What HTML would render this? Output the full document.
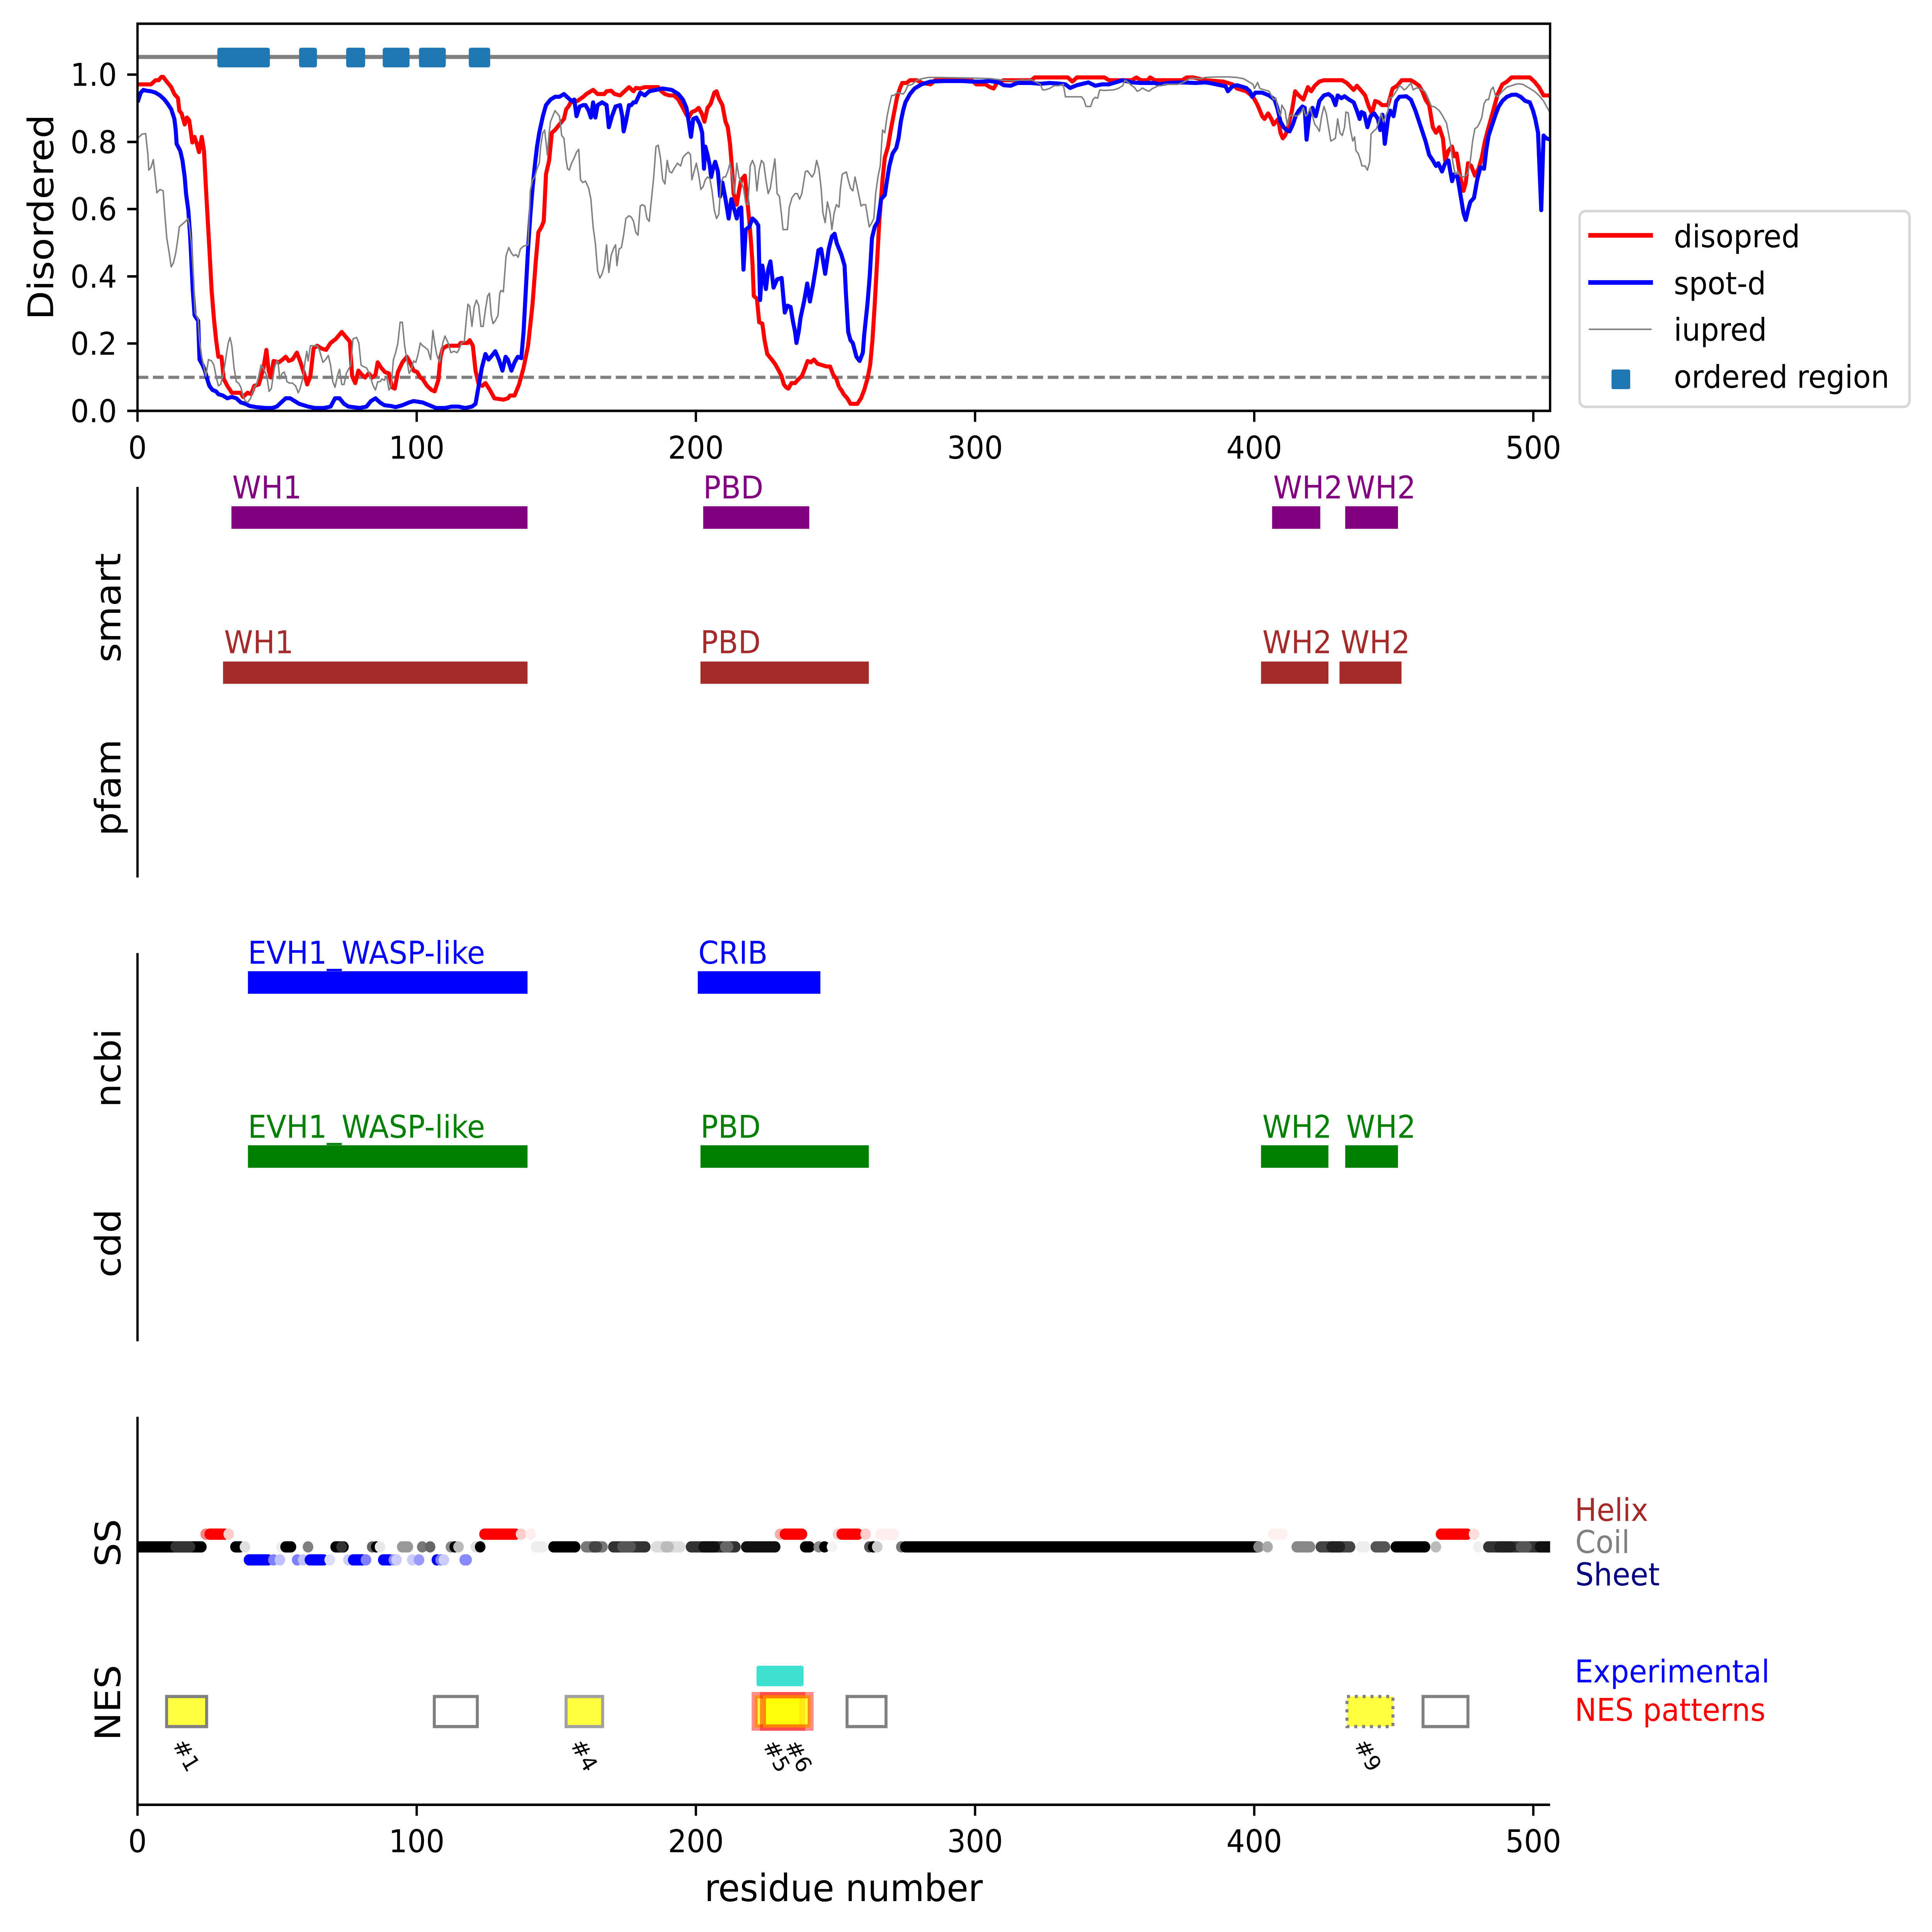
<!DOCTYPE html>
<html><head><meta charset="utf-8"><style>html,body{margin:0;padding:0;background:#fff;overflow:hidden;width:100vw;height:100vh}svg{display:block;width:100vw;height:100vh}</style></head>
<body>
<svg xmlns="http://www.w3.org/2000/svg" viewBox="0 0 7138 6682" preserveAspectRatio="none" font-family="'DejaVu Sans','Liberation Sans',sans-serif">
<rect width="7138" height="6682" fill="#fff"/>
<defs>
<clipPath id="c1"><rect x="508" y="82" width="5219" height="1339"/></clipPath>
<clipPath id="c3"><rect x="508" y="4800" width="5219" height="1442"/></clipPath>
</defs>

<!-- ===== TOP PANEL ===== -->
<g clip-path="url(#c1)">
<line x1="508" y1="197" x2="5727" y2="197" stroke="#808080" stroke-width="14"/>
<line x1="508" y1="1305" x2="5727" y2="1305" stroke="#808080" stroke-width="11" stroke-dasharray="40 17"/>
<g fill="#1f77b4">
<rect x="803" y="165" width="194" height="68" rx="8"/>
<rect x="1105" y="165" width="66" height="68" rx="8"/>
<rect x="1279" y="165" width="70" height="68" rx="8"/>
<rect x="1414" y="165" width="99" height="68" rx="8"/>
<rect x="1548" y="165" width="99" height="68" rx="8"/>
<rect x="1732" y="165" width="79" height="68" rx="8"/>
</g>
<g fill="none" stroke-linejoin="round">
<g transform="translate(500,0) scale(1.6582,0.95663)">
<polyline vector-effect="non-scaling-stroke" stroke="#ff0000" stroke-width="15" style="stroke-width:0.2101vw" points="5,305 35,305 45,290 52,290 58,278 62,278 70,295 80,315 87,340 95,355 98,400 103,410 110,450 115,425 120,435 127,515 132,495 137,520 142,550 148,495 153,545 158,700 165,900 170,1050 175,1150 180,1230 185,1290 192,1290 197,1370 205,1395 215,1420 235,1420 240,1435 250,1420 258,1425 265,1395 275,1390 285,1335 292,1265 297,1340 302,1365 308,1305 320,1310 328,1300 335,1290 342,1305 350,1300 360,1275 368,1310 375,1345 383,1390 390,1360 397,1260 405,1250 415,1260 425,1265 435,1240 447,1225 460,1200 470,1220 478,1235 483,1360 490,1385 497,1340 505,1355 512,1365 520,1350 528,1365 535,1355 540,1310 548,1330 556,1345 565,1350 572,1400 578,1405 585,1345 595,1310 605,1290 612,1310 620,1340 628,1345 635,1365 640,1370 650,1395 660,1410 667,1415 675,1375 680,1290 685,1260 695,1250 720,1250 725,1240 740,1240 745,1230 752,1250 758,1340 765,1390 773,1395 780,1385 790,1410 800,1440 820,1445 830,1440 835,1430 845,1430 855,1390 865,1330 875,1250 885,1100 892,950 898,840 905,820 910,800 915,630 922,580 928,480 935,470 940,460 945,450 950,440 955,430 960,395 965,385 970,370 985,365 998,350 1005,340 1015,330 1020,325 1030,340 1045,340 1050,330 1060,328 1068,340 1080,345 1090,330 1100,315 1110,330 1115,318 1125,320 1135,315 1165,315 1172,330 1180,340 1190,345 1200,345 1210,360 1220,390 1228,415 1233,425 1240,405 1248,400 1255,390 1262,410 1268,440 1275,390 1282,375 1290,335 1295,330 1300,355 1308,380 1315,440 1320,460 1325,520 1330,620 1333,700 1340,740 1345,690 1350,650 1358,635 1362,700 1368,800 1372,880 1375,950 1378,1070 1385,1080 1390,1165 1397,1170 1402,1230 1408,1280 1418,1300 1425,1315 1432,1335 1440,1360 1445,1390 1450,1400 1455,1405 1462,1385 1470,1385 1478,1370 1485,1360 1490,1340 1498,1305 1505,1310 1512,1300 1520,1315 1530,1320 1540,1325 1548,1325 1555,1355 1562,1370 1568,1400"/>
<polyline vector-effect="non-scaling-stroke" stroke="#0000ff" stroke-width="15" style="stroke-width:0.2101vw" points="5,370 12,335 18,325 25,328 35,330 45,335 55,345 65,360 72,375 80,395 87,430 90,470 92,520 100,545 105,580 110,640 113,700 118,760 122,850 125,950 128,1050 132,1140 140,1160 143,1300 150,1320 155,1340 160,1370 165,1395 172,1410 180,1415 185,1425 195,1430 205,1440 215,1435 225,1440 235,1455 245,1460 255,1468 270,1472 290,1475 305,1475 315,1470 325,1455 335,1440 345,1440 355,1450 365,1460 385,1470 400,1475 420,1475 435,1470 445,1440 455,1440 465,1460 475,1470 500,1475 515,1470 525,1450 535,1440 545,1455 555,1465 570,1468 580,1472 595,1465 610,1455 620,1450 640,1455 655,1465 670,1475 690,1475 705,1470 720,1470 735,1475 750,1470 758,1460 765,1395 772,1330 780,1280 787,1300 795,1285 802,1270 810,1300 818,1340 825,1290 830,1300 838,1340 845,1310 852,1290 860,1295 865,1200 870,1050 875,900 880,780 885,680 890,600 895,530 900,480 908,420 915,380 925,360 935,350 945,350 955,340 965,355 972,365 978,360 983,420 990,385 998,380 1003,380 1010,400 1015,425 1020,370 1025,425 1030,380 1040,370 1050,380 1055,460 1062,420 1070,385 1080,380 1085,420 1088,475 1093,440 1100,380 1105,380 1110,370 1115,370 1125,335 1135,345 1145,330 1160,325 1175,320 1195,325 1210,340 1220,360 1228,390 1233,440 1238,495 1243,430 1250,425 1258,450 1263,480 1267,610 1270,530 1275,560 1280,600 1283,640 1287,610 1292,585 1298,620 1303,710 1308,660 1315,720 1322,790 1328,720 1335,760 1340,790 1345,755 1350,750 1355,975 1360,830 1368,820 1375,790 1382,800 1388,815 1392,1085 1397,960 1405,1045 1410,975 1415,945 1422,1040 1430,1010 1440,1005 1447,1130 1453,1105 1460,1110 1465,1160 1470,1200 1473,1240 1478,1200 1482,1150 1490,1090 1497,1025 1503,1090 1510,1030 1517,960 1522,905 1528,900 1532,940 1537,990 1545,900 1552,855 1558,845 1563,880 1568,900"/>
<polyline vector-effect="non-scaling-stroke" stroke="#808080" stroke-width="5.4" style="stroke-width:0.0757vw" points="5,500 15,485 23,483 28,560 30,615 35,605 40,577 45,650 48,697 55,685 62,690 65,760 70,860 75,910 80,965 85,950 90,915 95,860 98,820 105,810 112,800 117,790 120,810 125,880 130,1010 133,1130 140,1155 143,1230 148,1290 152,1320 157,1360 163,1300 170,1305 175,1320 180,1360 185,1395 190,1390 197,1345 203,1280 207,1240 211,1220 215,1250 220,1330 225,1380 230,1385 235,1400 240,1430 245,1450 250,1455 257,1440 260,1425 265,1400 270,1390 275,1360 280,1320 285,1330 293,1360 298,1415 303,1405 310,1330 315,1305 318,1310 322,1370 327,1350 332,1345 338,1380 343,1385 350,1385 357,1395 363,1420 367,1405 372,1375 375,1350 378,1310 382,1270 385,1305 390,1250 405,1250 410,1265 418,1310 424,1300 430,1285 435,1320 440,1380 445,1400 450,1360 455,1335 460,1390 465,1390 470,1350 475,1335 480,1320 485,1225 493,1220 498,1240 503,1320 508,1325 515,1330 520,1345 525,1370 530,1395 535,1410 540,1380 545,1380 550,1370 555,1375 560,1360 565,1410 570,1395 575,1300 580,1275 585,1240 590,1165 595,1165 600,1250 605,1300 610,1350 615,1335 620,1305 625,1310 630,1280 635,1240 640,1250 645,1255 652,1265 658,1300 663,1195 668,1250 672,1285 678,1310 685,1240 690,1215 697,1240 703,1275 710,1270 717,1275 722,1260 727,1240 733,1235 738,1145 741,1100 745,1108 750,1180 755,1110 760,1085 765,1105 770,1180 775,1180 780,1120 785,1070 789,1060 793,1140 797,1170 802,1160 808,1140 812,1060 815,1050 820,1055 826,925 832,895 838,915 843,925 848,920 853,930 858,900 865,890 875,885 880,690 885,650 890,640 895,610 900,590 903,530 908,480 912,470 918,560 922,480 925,440 930,420 935,400 940,410 945,420 950,490 955,500 960,580 963,610 967,615 972,590 978,570 983,550 988,540 992,650 997,660 1003,655 1010,680 1015,720 1020,820 1025,880 1030,980 1035,1005 1040,990 1045,960 1050,885 1055,985 1060,925 1065,900 1070,885 1073,960 1078,900 1083,895 1088,850 1093,790 1100,780 1105,785 1110,800 1115,840 1120,850 1125,745 1130,740 1135,745 1140,790 1145,800 1150,720 1155,640 1160,530 1165,525 1170,570 1175,650 1180,665 1185,580 1190,620 1195,625 1200,610 1208,590 1215,600 1220,570 1225,560 1232,550 1237,560 1240,650 1245,620 1250,590 1255,630 1260,685 1265,675 1270,650 1275,640 1280,645 1285,690 1290,760 1295,790 1300,775 1305,660 1310,640 1315,640 1320,620 1325,590 1330,640 1335,700 1340,590 1345,640 1350,660 1355,680 1360,735 1365,740 1370,600 1375,580 1380,600 1385,690 1390,615 1395,580 1400,590 1405,650 1410,700 1415,680 1420,625 1425,575 1430,700 1435,710 1440,780 1443,830 1453,830 1457,750 1463,715 1470,700 1475,700 1480,720 1485,700 1490,650 1493,620 1498,618 1503,630 1508,640 1513,625 1518,580 1523,610 1528,680 1532,770 1537,805 1542,730 1548,770 1552,830 1557,770 1562,740 1565,745 1568,750"/>
</g>
<g transform="translate(3100,0) scale(1.6901,0.95663)">
<polyline vector-effect="non-scaling-stroke" stroke="#ff0000" stroke-width="15" style="stroke-width:0.2101vw" points="0,1400 5,1410 10,1425 18,1440 25,1460 40,1460 48,1440 55,1410 62,1370 68,1320 73,1230 78,1100 83,950 88,800 95,650 100,570 107,530 113,470 120,410 127,350 133,320 138,300 148,300 155,290 170,290 182,300 200,305 210,290 240,290 290,290 300,305 320,305 330,315 338,320 345,300 360,290 420,290 428,280 500,280 510,295 520,280 580,280 590,290 640,290 650,280 660,290 675,290 680,280 690,290 750,290 760,280 775,280 800,290 840,295 860,305 870,320 890,330 905,350 915,380 925,420 930,430 938,410 945,430 950,450 960,430 965,480 970,500 975,490 980,470 990,400 997,330 1005,345 1015,360 1025,315 1032,330 1040,310 1050,295 1060,290 1100,290 1110,300 1125,325 1132,310 1140,325 1150,345 1158,385 1165,410 1172,365 1180,370 1187,380 1200,380 1210,320 1220,310 1230,290 1250,290 1260,300 1268,310 1275,330 1282,360 1290,380 1298,460 1305,480 1312,460 1320,500 1325,580 1332,545 1340,530 1345,565 1350,555 1358,640 1365,690 1370,660 1375,590 1382,600 1390,635 1398,610 1405,570 1412,510 1420,460 1430,400 1440,340 1450,305 1460,295 1470,280 1510,280 1520,295 1530,315 1540,345 1555,345"/>
<polyline vector-effect="non-scaling-stroke" stroke="#0000ff" stroke-width="15" style="stroke-width:0.2101vw" points="0,900 5,920 12,960 15,1060 20,1200 25,1230 30,1240 38,1290 45,1305 52,1275 55,1210 62,1100 67,1000 72,860 78,820 85,800 92,720 100,705 105,650 110,600 117,555 125,535 130,500 135,440 140,400 145,370 155,340 165,320 180,305 200,295 230,293 270,293 290,295 310,295 330,293 350,298 360,308 375,310 390,300 420,300 440,303 460,300 480,302 495,305 505,318 520,308 545,298 560,310 575,305 590,305 600,300 610,295 620,290 640,298 660,300 690,300 700,305 720,300 750,298 780,300 800,298 810,300 830,307 845,312 850,330 860,312 870,308 890,318 898,330 903,350 910,335 925,335 940,345 952,360 958,390 965,440 972,460 978,470 985,475 992,450 998,420 1005,400 1013,385 1018,390 1022,505 1028,420 1035,390 1042,420 1050,365 1060,345 1070,340 1078,350 1085,380 1090,345 1098,355 1105,348 1115,360 1125,370 1132,400 1138,430 1142,405 1148,410 1155,460 1162,420 1170,410 1178,430 1183,470 1188,415 1193,520 1200,430 1205,400 1212,420 1218,365 1225,350 1240,348 1250,360 1260,400 1268,440 1275,475 1282,510 1290,560 1298,580 1305,600 1310,590 1318,620 1325,590 1332,580 1340,655 1345,630 1352,640 1360,720 1365,770 1370,795 1375,760 1380,730 1388,715 1395,650 1402,605 1410,610 1415,540 1420,490 1428,450 1435,415 1442,385 1450,365 1460,350 1470,343 1480,342 1490,350 1500,365 1510,370 1517,400 1522,430 1528,480 1535,760 1540,490 1546,500 1555,505"/>
<polyline vector-effect="non-scaling-stroke" stroke="#808080" stroke-width="5.4" style="stroke-width:0.0757vw" points="0,750 3,680 7,630 12,625 16,622 20,650 25,680 30,690 35,640 40,680 45,720 48,745 52,740 58,740 62,780 66,820 70,810 76,790 80,700 85,640 90,600 95,470 100,480 105,420 110,380 115,345 120,345 127,335 135,338 140,340 145,330 150,310 160,305 170,290 180,285 195,280 220,280 290,282 330,284 360,290 380,292 400,289 410,290 420,288 430,296 440,305 445,325 450,325 460,320 470,310 480,310 490,305 495,350 500,350 530,350 535,360 540,385 550,385 555,360 560,352 565,355 570,325 580,327 600,325 610,320 620,310 625,290 630,295 640,310 645,315 652,330 658,325 663,318 670,325 677,330 685,320 692,315 698,310 705,310 712,305 740,305 750,300 760,290 770,282 790,285 800,280 830,278 850,278 870,280 885,285 895,295 905,305 908,320 915,298 920,320 930,325 940,330 945,345 950,360 955,355 960,400 965,420 968,380 975,400 980,455 985,420 990,415 1000,420 1005,415 1010,405 1015,390 1020,420 1025,410 1030,390 1035,420 1040,450 1045,460 1050,475 1055,420 1060,385 1065,410 1070,460 1075,510 1080,505 1085,500 1090,430 1095,480 1100,490 1105,460 1108,405 1113,408 1118,470 1123,510 1127,495 1130,545 1135,555 1140,580 1143,600 1150,600 1155,615 1160,585 1163,485 1168,475 1175,465 1180,440 1185,410 1190,440 1195,420 1200,400 1203,355 1210,350 1218,330 1225,310 1230,315 1235,325 1240,320 1245,310 1250,300 1255,325 1262,318 1270,320 1280,330 1285,345 1290,365 1295,385 1300,385 1305,390 1312,400 1318,415 1323,430 1328,445 1332,480 1337,525 1342,590 1347,630 1353,620 1358,635 1365,640 1370,635 1375,625 1380,580 1385,510 1390,465 1395,460 1400,445 1405,425 1410,375 1415,360 1420,360 1425,325 1430,315 1435,345 1440,350 1450,330 1460,315 1470,310 1478,305 1485,303 1495,305 1500,310 1510,320 1520,330 1530,345 1540,365 1555,410"/>
</g>
</g>
</g>
<rect x="508" y="82" width="5219" height="1339" fill="none" stroke="#000" stroke-width="8.6"/>
<g stroke="#000" stroke-width="8.6">
<line x1="470" y1="1421" x2="508" y2="1421"/><line x1="470" y1="1188" x2="508" y2="1188"/><line x1="470" y1="956" x2="508" y2="956"/><line x1="470" y1="723" x2="508" y2="723"/><line x1="470" y1="491" x2="508" y2="491"/><line x1="470" y1="258" x2="508" y2="258"/>
<line x1="508" y1="1421" x2="508" y2="1459"/><line x1="1539.5" y1="1421" x2="1539.5" y2="1459"/><line x1="2571" y1="1421" x2="2571" y2="1459"/><line x1="3602.5" y1="1421" x2="3602.5" y2="1459"/><line x1="4634" y1="1421" x2="4634" y2="1459"/><line x1="5665" y1="1421" x2="5665" y2="1459"/>
</g>
<g font-size="108" fill="#000" text-anchor="end">
<text x="432" y="1460">0.0</text><text x="432" y="1227">0.2</text><text x="432" y="995">0.4</text><text x="432" y="762">0.6</text><text x="432" y="530">0.8</text><text x="432" y="297">1.0</text>
</g>
<g font-size="108" fill="#000" text-anchor="middle">
<text x="508" y="1586">0</text><text x="1539.5" y="1586">100</text><text x="2571" y="1586">200</text><text x="3602.5" y="1586">300</text><text x="4634" y="1586">400</text><text x="5665" y="1586">500</text>
</g>
<text transform="translate(196,751) rotate(-90)" text-anchor="middle" font-size="130">Disordered</text>

<!-- legend -->
<rect x="5836" y="730" width="1219" height="677" rx="22" fill="#fff" stroke="#d6d6d6" stroke-width="9"/>
<line x1="5868" y1="814" x2="6107" y2="814" stroke="#ff0000" stroke-width="16"/>
<line x1="5868" y1="977" x2="6107" y2="977" stroke="#0000ff" stroke-width="16"/>
<line x1="5870" y1="1139" x2="6102" y2="1139" stroke="#808080" stroke-width="5.4"/>
<rect x="5954" y="1278" width="69" height="68" rx="6" fill="#1f77b4"/>
<g font-size="108" fill="#000">
<text x="6184" y="855">disopred</text><text x="6184" y="1018">spot-d</text><text x="6184" y="1178">iupred</text><text x="6184" y="1341">ordered region</text>
</g>

<!-- ===== SMART / PFAM ===== -->
<line x1="508" y1="1684" x2="508" y2="3035" stroke="#000" stroke-width="8.6"/>
<text transform="translate(445,2102) rotate(-90)" text-anchor="middle" font-size="130">smart</text>
<text transform="translate(445,2724) rotate(-90)" text-anchor="middle" font-size="130">pfam</text>
<g fill="#800080">
<rect x="855" y="1751" width="1094" height="78"/><rect x="2598" y="1751" width="392" height="78"/><rect x="4700" y="1751" width="178" height="78"/><rect x="4970" y="1751" width="195" height="78"/>
</g>
<g fill="#800080" font-size="108">
<text x="858" y="1724">WH1</text><text x="2598" y="1724">PBD</text><text x="4704" y="1724">WH2</text><text x="4974" y="1724">WH2</text>
</g>
<g fill="#a52a2a">
<rect x="824" y="2288" width="1125" height="77"/><rect x="2588" y="2288" width="622" height="77"/><rect x="4659" y="2288" width="249" height="77"/><rect x="4949" y="2288" width="229" height="77"/>
</g>
<g fill="#a52a2a" font-size="108">
<text x="828" y="2259">WH1</text><text x="2588" y="2259">PBD</text><text x="4664" y="2259">WH2</text><text x="4953" y="2259">WH2</text>
</g>

<!-- ===== NCBI / CDD ===== -->
<line x1="508" y1="3296" x2="508" y2="4639" stroke="#000" stroke-width="8.6"/>
<text transform="translate(445,3694) rotate(-90)" text-anchor="middle" font-size="130">ncbi</text>
<text transform="translate(445,4300) rotate(-90)" text-anchor="middle" font-size="130">cdd</text>
<g fill="#0000ff">
<rect x="916" y="3359" width="1033" height="78"/><rect x="2578" y="3359" width="453" height="78"/>
</g>
<g fill="#0000ff" font-size="108">
<text x="916" y="3333">EVH1_WASP-like</text><text x="2580" y="3333">CRIB</text>
</g>
<g fill="#008000">
<rect x="916" y="3961" width="1033" height="78"/><rect x="2588" y="3961" width="622" height="78"/><rect x="4659" y="3961" width="249" height="78"/><rect x="4970" y="3961" width="195" height="78"/>
</g>
<g fill="#008000" font-size="108">
<text x="916" y="3935">EVH1_WASP-like</text><text x="2588" y="3935">PBD</text><text x="4664" y="3935">WH2</text><text x="4974" y="3935">WH2</text>
</g>

<!-- ===== SS / NES ===== -->
<g clip-path="url(#c3)" stroke-width="39" stroke-linecap="round" fill="none">
<g>
<line x1="500" y1="5350" x2="744" y2="5350" stroke="#000"/>
<line x1="649" y1="5350" x2="702" y2="5350" stroke="#333"/>
<line x1="870" y1="5350" x2="887" y2="5350" stroke="#000"/>
<line x1="905" y1="5350" x2="905.1" y2="5350" stroke="#e0e0e0"/>
<line x1="1040" y1="5350" x2="1040.1" y2="5350" stroke="#eee"/>
<line x1="1055" y1="5350" x2="1075" y2="5350" stroke="#000"/>
<line x1="1138" y1="5350" x2="1138.1" y2="5350" stroke="#808080"/>
<line x1="1240" y1="5350" x2="1269" y2="5350" stroke="#000"/>
<line x1="1262" y1="5350" x2="1262.1" y2="5350" stroke="#333"/>
<line x1="1375" y1="5350" x2="1375.1" y2="5350" stroke="#666"/>
<line x1="1390" y1="5350" x2="1390.1" y2="5350" stroke="#000"/>
<line x1="1404" y1="5350" x2="1404.1" y2="5350" stroke="#e8e8e8"/>
<line x1="1486" y1="5350" x2="1507" y2="5350" stroke="#999"/>
<line x1="1560" y1="5350" x2="1560.1" y2="5350" stroke="#777"/>
<line x1="1589" y1="5350" x2="1589.1" y2="5350" stroke="#666"/>
<line x1="1666" y1="5350" x2="1666.1" y2="5350" stroke="#888"/>
<line x1="1680" y1="5350" x2="1680.1" y2="5350" stroke="#000"/>
<line x1="1694" y1="5350" x2="1694.1" y2="5350" stroke="#bbb"/>
<line x1="1758" y1="5350" x2="1758.1" y2="5350" stroke="#ddd"/>
<line x1="1774" y1="5350" x2="1774.1" y2="5350" stroke="#000"/>
<line x1="1980" y1="5350" x2="2005" y2="5350" stroke="#eee"/>
<line x1="2045" y1="5350" x2="2125" y2="5350" stroke="#000"/>
<line x1="2165" y1="5350" x2="2226" y2="5350" stroke="#777"/>
<line x1="2195" y1="5350" x2="2205" y2="5350" stroke="#444"/>
<line x1="2266" y1="5350" x2="2384" y2="5350" stroke="#333"/>
<line x1="2300" y1="5350" x2="2330" y2="5350" stroke="#555"/>
<line x1="2424" y1="5350" x2="2513" y2="5350" stroke="#ddd"/>
<line x1="2460" y1="5350" x2="2470" y2="5350" stroke="#bbb"/>
<line x1="2553" y1="5350" x2="2717" y2="5350" stroke="#333"/>
<line x1="2600" y1="5350" x2="2640" y2="5350" stroke="#111"/>
<line x1="2680" y1="5350" x2="2690" y2="5350" stroke="#666"/>
<line x1="2757" y1="5350" x2="2864" y2="5350" stroke="#111"/>
<line x1="2975" y1="5350" x2="2991" y2="5350" stroke="#000"/>
<line x1="3025" y1="5350" x2="3025.1" y2="5350" stroke="#888"/>
<line x1="3046" y1="5350" x2="3046.1" y2="5350" stroke="#000"/>
<line x1="3074" y1="5350" x2="3074.1" y2="5350" stroke="#f4f4f4"/>
<line x1="3212" y1="5350" x2="3212.1" y2="5350" stroke="#555"/>
<line x1="3226" y1="5350" x2="3226.1" y2="5350" stroke="#000"/>
<line x1="3241" y1="5350" x2="3241.1" y2="5350" stroke="#ccc"/>
<line x1="3330" y1="5350" x2="3330.1" y2="5350" stroke="#777"/>
<line x1="3345" y1="5350" x2="4650" y2="5350" stroke="#000"/>
<line x1="4650" y1="5350" x2="4650.1" y2="5350" stroke="#888"/>
<line x1="4683" y1="5350" x2="4683.1" y2="5350" stroke="#aaa"/>
<line x1="4791" y1="5350" x2="4840" y2="5350" stroke="#888"/>
<line x1="4880" y1="5350" x2="4988" y2="5350" stroke="#444"/>
<line x1="4920" y1="5350" x2="4950" y2="5350" stroke="#222"/>
<line x1="5028" y1="5350" x2="5043" y2="5350" stroke="#eee"/>
<line x1="5083" y1="5350" x2="5117" y2="5350" stroke="#555"/>
<line x1="5157" y1="5350" x2="5265" y2="5350" stroke="#000"/>
<line x1="5305" y1="5350" x2="5305.1" y2="5350" stroke="#bbb"/>
<line x1="5462" y1="5350" x2="5462.1" y2="5350" stroke="#f0f0f0"/>
<line x1="5499" y1="5350" x2="5740" y2="5350" stroke="#333"/>
<line x1="5540" y1="5350" x2="5580" y2="5350" stroke="#222"/>
<line x1="5620" y1="5350" x2="5640" y2="5350" stroke="#555"/>
<line x1="5690" y1="5350" x2="5740" y2="5350" stroke="#111"/>
</g>
<g>
<line x1="760" y1="5306" x2="760.1" y2="5306" stroke="#ff8080"/>
<line x1="775" y1="5306" x2="830" y2="5306" stroke="#f00"/>
<line x1="845" y1="5306" x2="845.1" y2="5306" stroke="#ffcccc"/>
<line x1="1790" y1="5306" x2="1905" y2="5306" stroke="#f00"/>
<line x1="1925" y1="5306" x2="1925.1" y2="5306" stroke="#ffcccc"/>
<line x1="1960" y1="5306" x2="1960.1" y2="5306" stroke="#ffeeee"/>
<line x1="2882" y1="5306" x2="2882.1" y2="5306" stroke="#ffaaaa"/>
<line x1="2900" y1="5306" x2="2963" y2="5306" stroke="#f00"/>
<line x1="3096" y1="5306" x2="3096.1" y2="5306" stroke="#ffcccc"/>
<line x1="3110" y1="5306" x2="3170" y2="5306" stroke="#f00"/>
<line x1="3198" y1="5306" x2="3198.1" y2="5306" stroke="#ffcccc"/>
<line x1="3253" y1="5306" x2="3302" y2="5306" stroke="#ffeeee"/>
<line x1="4704" y1="5306" x2="4738" y2="5306" stroke="#fff0f0"/>
<line x1="5324" y1="5306" x2="5420" y2="5306" stroke="#f00"/>
<line x1="5446" y1="5306" x2="5446.1" y2="5306" stroke="#ffdddd"/>
</g>
<g>
<line x1="920" y1="5395" x2="990" y2="5395" stroke="#00f"/>
<line x1="1010" y1="5395" x2="1010.1" y2="5395" stroke="#8080ff"/>
<line x1="1034" y1="5395" x2="1034.1" y2="5395" stroke="#c0c0ff"/>
<line x1="1098" y1="5395" x2="1098.1" y2="5395" stroke="#8080ff"/>
<line x1="1120" y1="5395" x2="1120.1" y2="5395" stroke="#c0c0ff"/>
<line x1="1145" y1="5395" x2="1195" y2="5395" stroke="#00f"/>
<line x1="1218" y1="5395" x2="1218.1" y2="5395" stroke="#ddf"/>
<line x1="1287" y1="5395" x2="1287.1" y2="5395" stroke="#ccf"/>
<line x1="1305" y1="5395" x2="1340" y2="5395" stroke="#00f"/>
<line x1="1352" y1="5395" x2="1352.1" y2="5395" stroke="#8080ff"/>
<line x1="1416" y1="5395" x2="1440" y2="5395" stroke="#00f"/>
<line x1="1455" y1="5395" x2="1455.1" y2="5395" stroke="#8888ff"/>
<line x1="1465" y1="5395" x2="1465.1" y2="5395" stroke="#ccf"/>
<line x1="1523" y1="5395" x2="1523.1" y2="5395" stroke="#ccf"/>
<line x1="1548" y1="5395" x2="1548.1" y2="5395" stroke="#99f"/>
<line x1="1614" y1="5395" x2="1614.1" y2="5395" stroke="#00f"/>
<line x1="1628" y1="5395" x2="1628.1" y2="5395" stroke="#8080ff"/>
<line x1="1640" y1="5395" x2="1640.1" y2="5395" stroke="#ccf"/>
<line x1="1717" y1="5395" x2="1724" y2="5395" stroke="#8888ff"/>
</g>
</g>

<!-- NES -->
<rect x="2795" y="5761" width="174" height="71" rx="8" fill="#40e0d0"/>
<g stroke-width="11">
<rect x="615.5" y="5867.5" width="148" height="104" fill="#ffff00" fill-opacity="0.75" stroke="#808080"/>
<rect x="1604.5" y="5867.5" width="159" height="104" fill="none" stroke="#808080"/>
<rect x="2091.5" y="5867.5" width="135" height="104" fill="#ffff00" fill-opacity="0.75" stroke="#a0a0a0"/>
<rect x="3129.5" y="5867.5" width="144" height="104" fill="none" stroke="#808080"/>
<rect x="4976.5" y="5867.5" width="170" height="104" fill="#ffff00" fill-opacity="0.75" stroke="#808080" stroke-dasharray="11 18"/>
<rect x="5257.5" y="5867.5" width="166" height="104" fill="none" stroke="#808080"/>
</g>
<rect x="2788" y="5863" width="176" height="112" fill="#ffff00" fill-opacity="0.8" stroke="#ff0000" stroke-opacity="0.45" stroke-width="22"/>
<rect x="2819" y="5863" width="176" height="112" fill="#ffff00" fill-opacity="0.8" stroke="#ff0000" stroke-opacity="0.45" stroke-width="22"/>
<g font-size="78" fill="#000">
<text transform="translate(636,6034) rotate(60)">#1</text>
<text transform="translate(2106,6034) rotate(60)">#4</text>
<text transform="translate(2817,6037) rotate(60)">#5</text>
<text transform="translate(2898,6037) rotate(60)">#6</text>
<text transform="translate(5002,6034) rotate(60)">#9</text>
</g>

<line x1="508" y1="4900" x2="508" y2="6246" stroke="#000" stroke-width="8.6"/>
<line x1="504" y1="6242" x2="5727" y2="6242" stroke="#000" stroke-width="8.6"/>
<g stroke="#000" stroke-width="8.6">
<line x1="508" y1="6242" x2="508" y2="6280"/><line x1="1539.5" y1="6242" x2="1539.5" y2="6280"/><line x1="2571" y1="6242" x2="2571" y2="6280"/><line x1="3602.5" y1="6242" x2="3602.5" y2="6280"/><line x1="4634" y1="6242" x2="4634" y2="6280"/><line x1="5665" y1="6242" x2="5665" y2="6280"/>
</g>
<g font-size="108" fill="#000" text-anchor="middle">
<text x="508" y="6406">0</text><text x="1539.5" y="6406">100</text><text x="2571" y="6406">200</text><text x="3602.5" y="6406">300</text><text x="4634" y="6406">400</text><text x="5665" y="6406">500</text>
</g>
<text x="3117" y="6575" text-anchor="middle" font-size="130">residue number</text>
<text transform="translate(444,5336) rotate(-90)" text-anchor="middle" font-size="130">SS</text>
<text transform="translate(444,5889) rotate(-90)" text-anchor="middle" font-size="130">NES</text>

<g font-size="108">
<text x="5818" y="5260" fill="#a52a2a">Helix</text>
<text x="5820" y="5371" fill="#808080">Coil</text>
<text x="5820" y="5483" fill="#000080">Sheet</text>
<text x="5818" y="5819" fill="#0000ff">Experimental</text>
<text x="5818" y="5952" fill="#ff0000">NES patterns</text>
</g>
</svg>
</body></html>
